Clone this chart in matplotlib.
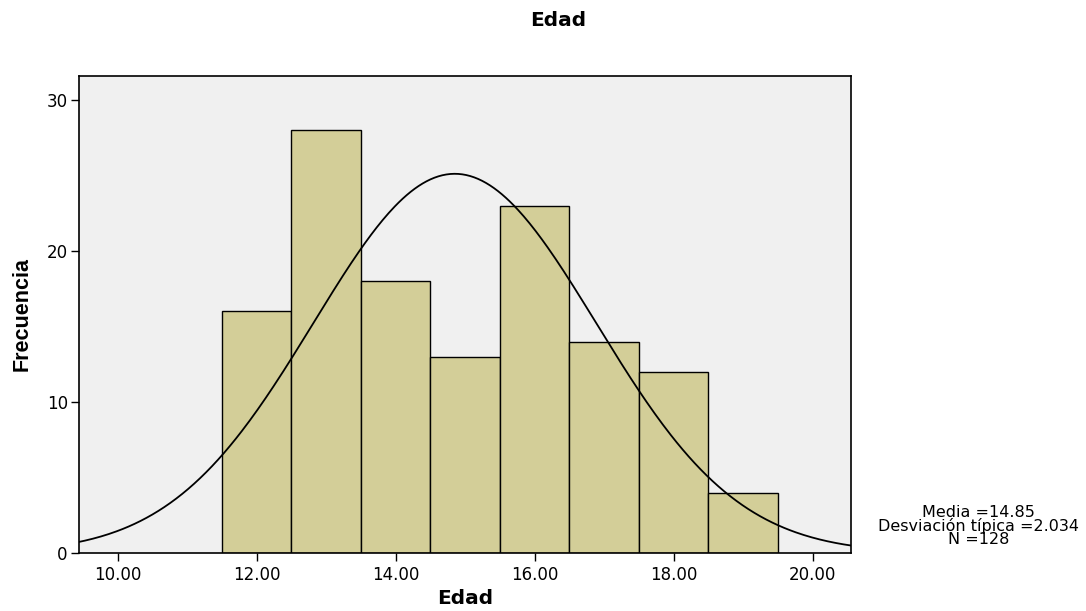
import matplotlib.pyplot as plt
import numpy as np

plt.rcParams['font.family'] = ['DejaVu Sans']

# histogram data
bin_centers = [12, 13, 14, 15, 16, 17, 18, 19]
counts = [16, 28, 18, 13, 23, 14, 12, 4]
mean = 14.85
std = 2.034
n = 128
x_ticks = [10, 12, 14, 16, 18, 20]
y_ticks = [0, 10, 20, 30]


def main():
    fig = plt.figure(figsize=(10.86, 6.11), dpi=100)
    ax = fig.add_axes([0.0727, 0.0949, 0.7105, 0.7812])
    ax.set_facecolor('#f0f0f0')

    ax.bar(bin_centers, counts, width=1.0, color='#d3ce98',
           edgecolor='black', linewidth=1.0, zorder=2)

    xs = np.linspace(9.3, 20.7, 400)
    ys = n * 1.0 / (std * np.sqrt(2 * np.pi)) * np.exp(-0.5 * ((xs - mean) / std) ** 2)
    ax.plot(xs, ys, color='black', linewidth=1.3, zorder=3)

    ax.set_xlim(9.443, 20.544)
    ax.set_ylim(0, 31.6)
    ax.set_xticks(x_ticks)
    ax.set_xticklabels(['%.2f' % v for v in x_ticks])
    ax.set_yticks(y_ticks)
    ax.tick_params(axis='both', labelsize=12, length=6, width=1, direction='out')
    ax.tick_params(axis='x', pad=3)
    ax.tick_params(axis='y', pad=2)

    for s in ax.spines.values():
        s.set_linewidth(1.2)

    ax.set_xlabel('Edad', fontsize=14.5, fontweight='bold', labelpad=4)
    ax.set_ylabel('Frecuencia', fontsize=15.5, fontweight='bold', labelpad=10,
                  family=['Liberation Sans Narrow', 'Liberation Sans'])
    fig.text(0.514, 0.966, 'Edad', ha='center', va='center',
             fontsize=14.5, fontweight='bold')

    fig.text(0.901, 0.139, 'Media =%.2f\nDesviación típica =%.3f\nN =%d' % (mean, std, n),
             ha='center', va='center', multialignment='center',
             fontsize=11.5, linespacing=0.84)

    fig.savefig('out.png', dpi=100)


if __name__ == '__main__':
    main()
